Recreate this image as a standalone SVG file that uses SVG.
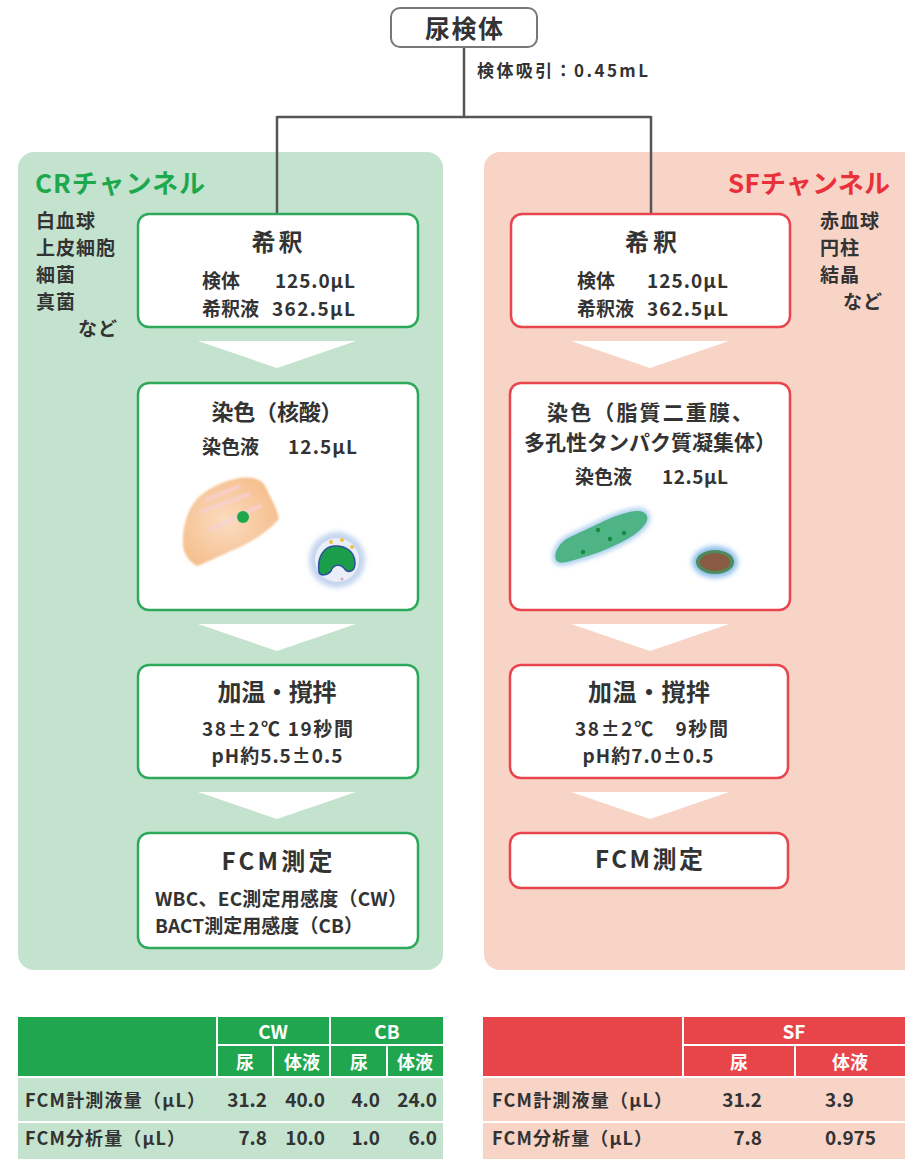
<svg xmlns="http://www.w3.org/2000/svg" width="905" height="1159" viewBox="0 0 905 1159">
  <defs>
    <style>
      .t { font-family: "Noto Sans CJK JP", "Noto Sans", sans-serif; fill: #333; font-weight: 700; }
      .ttl { font-size: 24px; text-anchor: middle; }
      .ttl2 { font-size: 21px; text-anchor: middle; }
      .bd { font-size: 19px; }
      .side { font-size: 19px; letter-spacing: 1px; }
      .end { text-anchor: end; }
      .mid { text-anchor: middle; }
      .wh { fill: #fff; }
      .panel-g { fill: #c4e3cf; }
      .panel-r { fill: #f8d4c7; }
      .box-g { fill: #fff; stroke: #2ea95b; stroke-width: 2.5; }
      .box-r { fill: #fff; stroke: #e8464c; stroke-width: 2.5; }
      .chev { fill: #fff; }
      .wire { fill: none; stroke: #555; stroke-width: 2.5; }
      .sep { stroke: #fff; stroke-width: 2; }
    </style>
    <filter id="soft" x="-20%" y="-20%" width="140%" height="140%">
      <feGaussianBlur stdDeviation="1.2"/>
    </filter>
    <filter id="glow" x="-30%" y="-30%" width="160%" height="160%">
      <feGaussianBlur stdDeviation="2.5"/>
    </filter>
    <radialGradient id="epi" cx="0.45" cy="0.5" r="0.6">
      <stop offset="0" stop-color="#fbdcc0"/>
      <stop offset="1" stop-color="#f5bd8a"/>
    </radialGradient>
  </defs>

  <!-- channel panels -->
  <rect class="panel-g" x="18" y="152" width="425" height="818" rx="16"/>
  <rect class="panel-r" x="484" y="152" width="440" height="818" rx="16"/>

  <!-- channel headings and target cells -->
  <g id="cr-label">
    <text class="t" x="35" y="193" font-size="26" style="fill:#1ea84e" textLength="170">CRチャンネル</text>
    <text class="t side" x="36" y="228">白血球</text>
    <text class="t side" x="36" y="255">上皮細胞</text>
    <text class="t side" x="36" y="282">細菌</text>
    <text class="t side" x="36" y="309">真菌</text>
    <text class="t side" x="78" y="336">など</text>
  </g>
  <g id="sf-label">
    <text class="t" x="728" y="193" font-size="26" style="fill:#e8313b" textLength="162">SFチャンネル</text>
    <text class="t side" x="820" y="228">赤血球</text>
    <text class="t side" x="820" y="255">円柱</text>
    <text class="t side" x="820" y="282">結晶</text>
    <text class="t side" x="843" y="309">など</text>
  </g>

  <!-- connectors -->
  <g id="connectors">
    <path class="wire" d="M464,47 V117 M277,117 H651 M277,116 V213 M651,116 V213"/>
    <!-- step arrows, CR -->
    <polygon class="chev" points="198,341 356,341 277,368"/>
    <polygon class="chev" points="198,624 356,624 277,651"/>
    <polygon class="chev" points="198,792 356,792 277,819"/>
    <!-- step arrows, SF -->
    <polygon class="chev" points="571,341 729,341 650,368"/>
    <polygon class="chev" points="571,624 729,624 650,651"/>
    <polygon class="chev" points="571,792 729,792 650,819"/>
  </g>

  <!-- sample -->
  <g id="sample">
    <rect x="391" y="8" width="146" height="39" rx="9" fill="#fff" stroke="#777" stroke-width="2"/>
    <text class="t" x="464" y="38" font-size="25" text-anchor="middle" textLength="78">尿検体</text>
    <text class="t" x="477" y="77" font-size="17" textLength="171">検体吸引：0.45mL</text>
  </g>

  <!-- CR channel steps -->
  <g id="cr-dilute">
    <rect class="box-g" x="138" y="214" width="280" height="113" rx="11"/>
    <text class="t ttl" x="277" y="251" textLength="51">希釈</text>
    <text class="t bd" x="202" y="288">検体</text>
    <text class="t bd end" x="355" y="288" textLength="80">125.0μL</text>
    <text class="t bd" x="202" y="316">希釈液</text>
    <text class="t bd end" x="355" y="316" textLength="83">362.5μL</text>
  </g>

  <g id="cr-stain">
    <rect class="box-g" x="138" y="383" width="280" height="227" rx="11"/>
    <text class="t ttl2" x="277" y="420" font-size="22" style="font-size:22px" textLength="131">染色（核酸）</text>
    <text class="t bd" x="202" y="454">染色液</text>
    <text class="t bd end" x="357" y="454" textLength="69">12.5μL</text>
    <!-- epithelial cell -->
    <g filter="url(#soft)">
      <path d="M183,546 C182,530 186,512 196,500 C205,490 220,482 235,479 C248,476 258,478 264,484 C270,496 277,508 279,519 L270,528 C258,538 244,546 231,551 C218,557 205,563 197,566 C190,562 184,555 183,546 Z" fill="url(#epi)"/>
      <path d="M205,500 L240,486 M200,512 L250,494 M210,530 L262,505" stroke="#f6cfd6" stroke-width="3" fill="none" opacity="0.9"/>
    </g>
    <circle cx="243" cy="517" r="6" fill="#1ca84a"/>
    <!-- white blood cell -->
    <circle cx="337" cy="560" r="28" fill="#c5d5ee" filter="url(#glow)"/>
    <circle cx="337" cy="560" r="22" fill="#e9eef8"/>
    <path d="M319,572 C317,558 323,547 334,546 C346,545 355,552 355,563 C355,572 348,574 344,568 C340,563 333,565 331,571 C327,576 320,576 319,572 Z" fill="#1b9e4a" stroke="#2d4f9e" stroke-width="1.5"/>
    <circle cx="331" cy="542" r="2" fill="#f1c040"/>
    <circle cx="342" cy="540" r="2" fill="#f1c040"/>
    <circle cx="352" cy="547" r="2" fill="#f1c040"/>
    <circle cx="342" cy="579" r="1.5" fill="#e9a0b0"/>
  </g>

  <g id="cr-heat">
    <rect class="box-g" x="138" y="665" width="280" height="113" rx="11"/>
    <text class="t ttl" x="277" y="701" textLength="119">加温・撹拌</text>
    <text class="t bd" x="202" y="736" textLength="151">38±2℃ 19秒間</text>
    <text class="t bd mid" x="277" y="763" textLength="131">pH約5.5±0.5</text>
  </g>

  <g id="cr-fcm">
    <rect class="box-g" x="138" y="833" width="280" height="115" rx="11"/>
    <text class="t ttl" x="277" y="870" textLength="111">FCM測定</text>
    <text class="t bd" x="155" y="906" textLength="252">WBC、EC測定用感度（CW）</text>
    <text class="t bd" x="155" y="933" textLength="208">BACT測定用感度（CB）</text>
  </g>

  <!-- SF channel steps -->
  <g id="sf-dilute">
    <rect class="box-r" x="511" y="214" width="279" height="113" rx="11"/>
    <text class="t ttl" x="651" y="251" textLength="52">希釈</text>
    <text class="t bd" x="577" y="288">検体</text>
    <text class="t bd end" x="728" y="288" textLength="81">125.0μL</text>
    <text class="t bd" x="577" y="316">希釈液</text>
    <text class="t bd end" x="728" y="316" textLength="81">362.5μL</text>
  </g>

  <g id="sf-stain">
    <rect class="box-r" x="510" y="383" width="280" height="227" rx="11"/>
    <text class="t ttl2" x="650" y="420" textLength="206">染色（脂質二重膜、</text>
    <text class="t ttl2" x="650" y="450" textLength="252">多孔性タンパク質凝集体）</text>
    <text class="t bd" x="575" y="484">染色液</text>
    <text class="t bd end" x="728" y="484" textLength="66">12.5μL</text>
    <!-- cast -->
    <path d="M556,560 C553,552 560,542 570,537 C580,532 590,528 600,523 C612,517 625,512 636,511 C645,510 650,516 646,523 C640,532 630,538 620,543 C606,550 592,555 578,559 C568,562 559,565 556,560 Z" fill="none" stroke="#9cc6ec" stroke-width="5" filter="url(#glow)"/>
    <path d="M556,560 C553,552 560,542 570,537 C580,532 590,528 600,523 C612,517 625,512 636,511 C645,510 650,516 646,523 C640,532 630,538 620,543 C606,550 592,555 578,559 C568,562 559,565 556,560 Z" fill="#4eb486"/>
    <circle cx="598" cy="530" r="2.2" fill="#138a3e"/>
    <circle cx="610" cy="539" r="2.2" fill="#138a3e"/>
    <circle cx="624" cy="533" r="2.2" fill="#138a3e"/>
    <circle cx="583" cy="552" r="2.2" fill="#138a3e"/>
    <!-- crystal / red cell -->
    <ellipse cx="715" cy="562" rx="23" ry="16" fill="#8fc0ea" filter="url(#glow)"/>
    <ellipse cx="715" cy="562" rx="19" ry="12" fill="#4f8a5c"/>
    <ellipse cx="715" cy="562" rx="15" ry="9" fill="#8a5a42"/>
  </g>

  <g id="sf-heat">
    <rect class="box-r" x="510" y="665" width="278" height="113" rx="11"/>
    <text class="t ttl" x="649" y="701" textLength="122">加温・撹拌</text>
    <text class="t bd" x="575" y="736" textLength="153">38±2℃　9秒間</text>
    <text class="t bd mid" x="648" y="763" textLength="131">pH約7.0±0.5</text>
  </g>

  <g id="sf-fcm">
    <rect class="box-r" x="510" y="833" width="278" height="55" rx="11"/>
    <text class="t ttl" x="649" y="868" textLength="108">FCM測定</text>
  </g>

  <!-- CR volume table -->
  <g id="cr-table">
    <rect x="18" y="1017" width="425" height="60" fill="#1fa64f"/>
    <rect x="18" y="1077" width="425" height="82" fill="#c4e3cf"/>
    <line class="sep" x1="217" y1="1017" x2="217" y2="1077"/>
    <line class="sep" x1="330" y1="1017" x2="330" y2="1077"/>
    <line class="sep" x1="217" y1="1045" x2="443" y2="1045"/>
    <line class="sep" x1="273" y1="1045" x2="273" y2="1077"/>
    <line class="sep" x1="387" y1="1045" x2="387" y2="1077"/>
    <line class="sep" x1="18" y1="1077" x2="443" y2="1077"/>
    <line class="sep" x1="18" y1="1122" x2="443" y2="1122"/>
    <text class="t wh mid" x="273" y="1039" font-size="19">CW</text>
    <text class="t wh mid" x="387" y="1039" font-size="19">CB</text>
    <text class="t wh mid" x="245" y="1069" font-size="18">尿</text>
    <text class="t wh mid" x="302" y="1069" font-size="18">体液</text>
    <text class="t wh mid" x="359" y="1069" font-size="18">尿</text>
    <text class="t wh mid" x="415" y="1069" font-size="18">体液</text>
    <text class="t" x="25" y="1107" font-size="18" textLength="180">FCM計測液量（μL）</text>
    <text class="t" x="25" y="1145" font-size="18" textLength="160">FCM分析量（μL）</text>
    <g font-size="19">
      <text class="t end" x="267" y="1107">31.2</text>
      <text class="t end" x="325" y="1107">40.0</text>
      <text class="t end" x="380" y="1107">4.0</text>
      <text class="t end" x="437" y="1107">24.0</text>
      <text class="t end" x="267" y="1145">7.8</text>
      <text class="t end" x="325" y="1145">10.0</text>
      <text class="t end" x="380" y="1145">1.0</text>
      <text class="t end" x="437" y="1145">6.0</text>
    </g>
  </g>

  <!-- SF volume table -->
  <g id="sf-table">
    <rect x="483" y="1017" width="422" height="60" fill="#e8454b"/>
    <rect x="483" y="1077" width="422" height="82" fill="#f8d4c7"/>
    <line class="sep" x1="683" y1="1017" x2="683" y2="1077"/>
    <line class="sep" x1="683" y1="1045" x2="905" y2="1045"/>
    <line class="sep" x1="795" y1="1045" x2="795" y2="1077"/>
    <line class="sep" x1="483" y1="1077" x2="905" y2="1077"/>
    <line class="sep" x1="483" y1="1122" x2="905" y2="1122"/>
    <text class="t wh mid" x="794" y="1039" font-size="19">SF</text>
    <text class="t wh mid" x="739" y="1069" font-size="18">尿</text>
    <text class="t wh mid" x="850" y="1069" font-size="18">体液</text>
    <text class="t" x="492" y="1107" font-size="18" textLength="180">FCM計測液量（μL）</text>
    <text class="t" x="492" y="1145" font-size="18" textLength="160">FCM分析量（μL）</text>
    <g font-size="19">
      <text class="t end" x="762" y="1107">31.2</text>
      <text class="t" x="825" y="1107">3.9</text>
      <text class="t end" x="762" y="1145">7.8</text>
      <text class="t" x="825" y="1145">0.975</text>
    </g>
  </g>
</svg>
